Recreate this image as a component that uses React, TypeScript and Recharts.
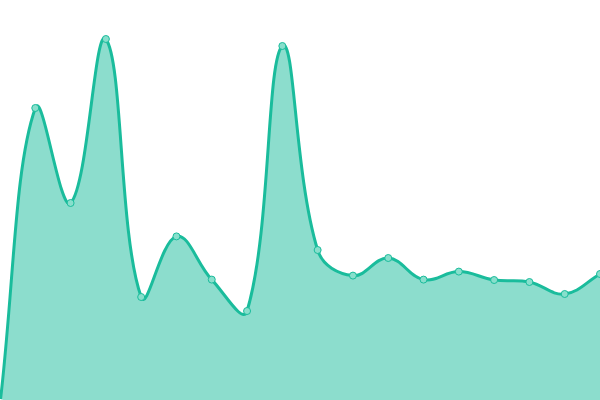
import { AreaChart, Area, XAxis, YAxis } from "recharts";

const labels = ["1", "2", "3", "4", "5", "6", "7", "8", "9", "10", "11", "12", "13", "14", "15", "16", "17", "18"];
const values = [-1, 73, 49.25, 90.25, 25.75, 40.9, 30.1, 22.25, 88.5, 37.5, 31.1, 35.5, 30.1, 32.1, 30, 29.5, 26.5, 31.5];

const data = labels.map((label, i) => ({ label, value: values[i] }));

const W = 600;
const H = 400;
const TENSION = 0.4;

// bezier spline with a tension factor, control points kept inside the plot
function tensionCurve(context: any) {
  let pts: [number, number][] = [];
  let line = NaN;
  const clamp = (v: number, lo: number, hi: number) => Math.max(lo, Math.min(hi, v));
  return {
    areaStart() {
      line = 0;
    },
    areaEnd() {
      line = NaN;
    },
    lineStart() {
      pts = [];
    },
    point(x: number, y: number) {
      pts.push([+x, +y]);
    },
    lineEnd() {
      const n = pts.length;
      if (n) {
        const ctrl = pts.map((cur, i) => {
          const prev = pts[i - 1] || cur;
          const next = pts[i + 1] || cur;
          const d01 = Math.hypot(cur[0] - prev[0], cur[1] - prev[1]);
          const d12 = Math.hypot(next[0] - cur[0], next[1] - cur[1]);
          let s01 = d01 / (d01 + d12);
          let s12 = d12 / (d01 + d12);
          if (isNaN(s01)) s01 = 0;
          if (isNaN(s12)) s12 = 0;
          const fa = TENSION * s01;
          const fb = TENSION * s12;
          return {
            p: [clamp(cur[0] - fa * (next[0] - prev[0]), 0, W), clamp(cur[1] - fa * (next[1] - prev[1]), 0, H)],
            n: [clamp(cur[0] + fb * (next[0] - prev[0]), 0, W), clamp(cur[1] + fb * (next[1] - prev[1]), 0, H)],
          };
        });
        if (line) context.lineTo(pts[0][0], pts[0][1]);
        else context.moveTo(pts[0][0], pts[0][1]);
        for (let i = 1; i < n; i++) {
          const a = ctrl[i - 1].n;
          const b = ctrl[i].p;
          context.bezierCurveTo(a[0], a[1], b[0], b[1], pts[i][0], pts[i][1]);
        }
      }
      if (line || (line !== 0 && n === 1)) context.closePath();
      line = 1 - line;
    },
  };
}

export default function App() {
  return (
    <div style={{ position: "absolute", top: 0, left: 0, width: W, height: H, background: "#fff" }}>
      <AreaChart width={W} height={H} data={data} margin={{ top: 0, right: 0, left: 0, bottom: 0 }}>
        <XAxis dataKey="label" hide />
        <YAxis hide domain={[0, 100]} allowDataOverflow />
        <Area
          type={tensionCurve as any}
          dataKey="value"
          stroke="#1abc9c"
          strokeWidth={3}
          fill="#1abc9c"
          fillOpacity={0.5}
          dot={{ r: 3.5, fill: "#88dfcc", stroke: "#1abc9c", strokeWidth: 1, fillOpacity: 1 }}
          isAnimationActive={false}
        />
      </AreaChart>
    </div>
  );
}
